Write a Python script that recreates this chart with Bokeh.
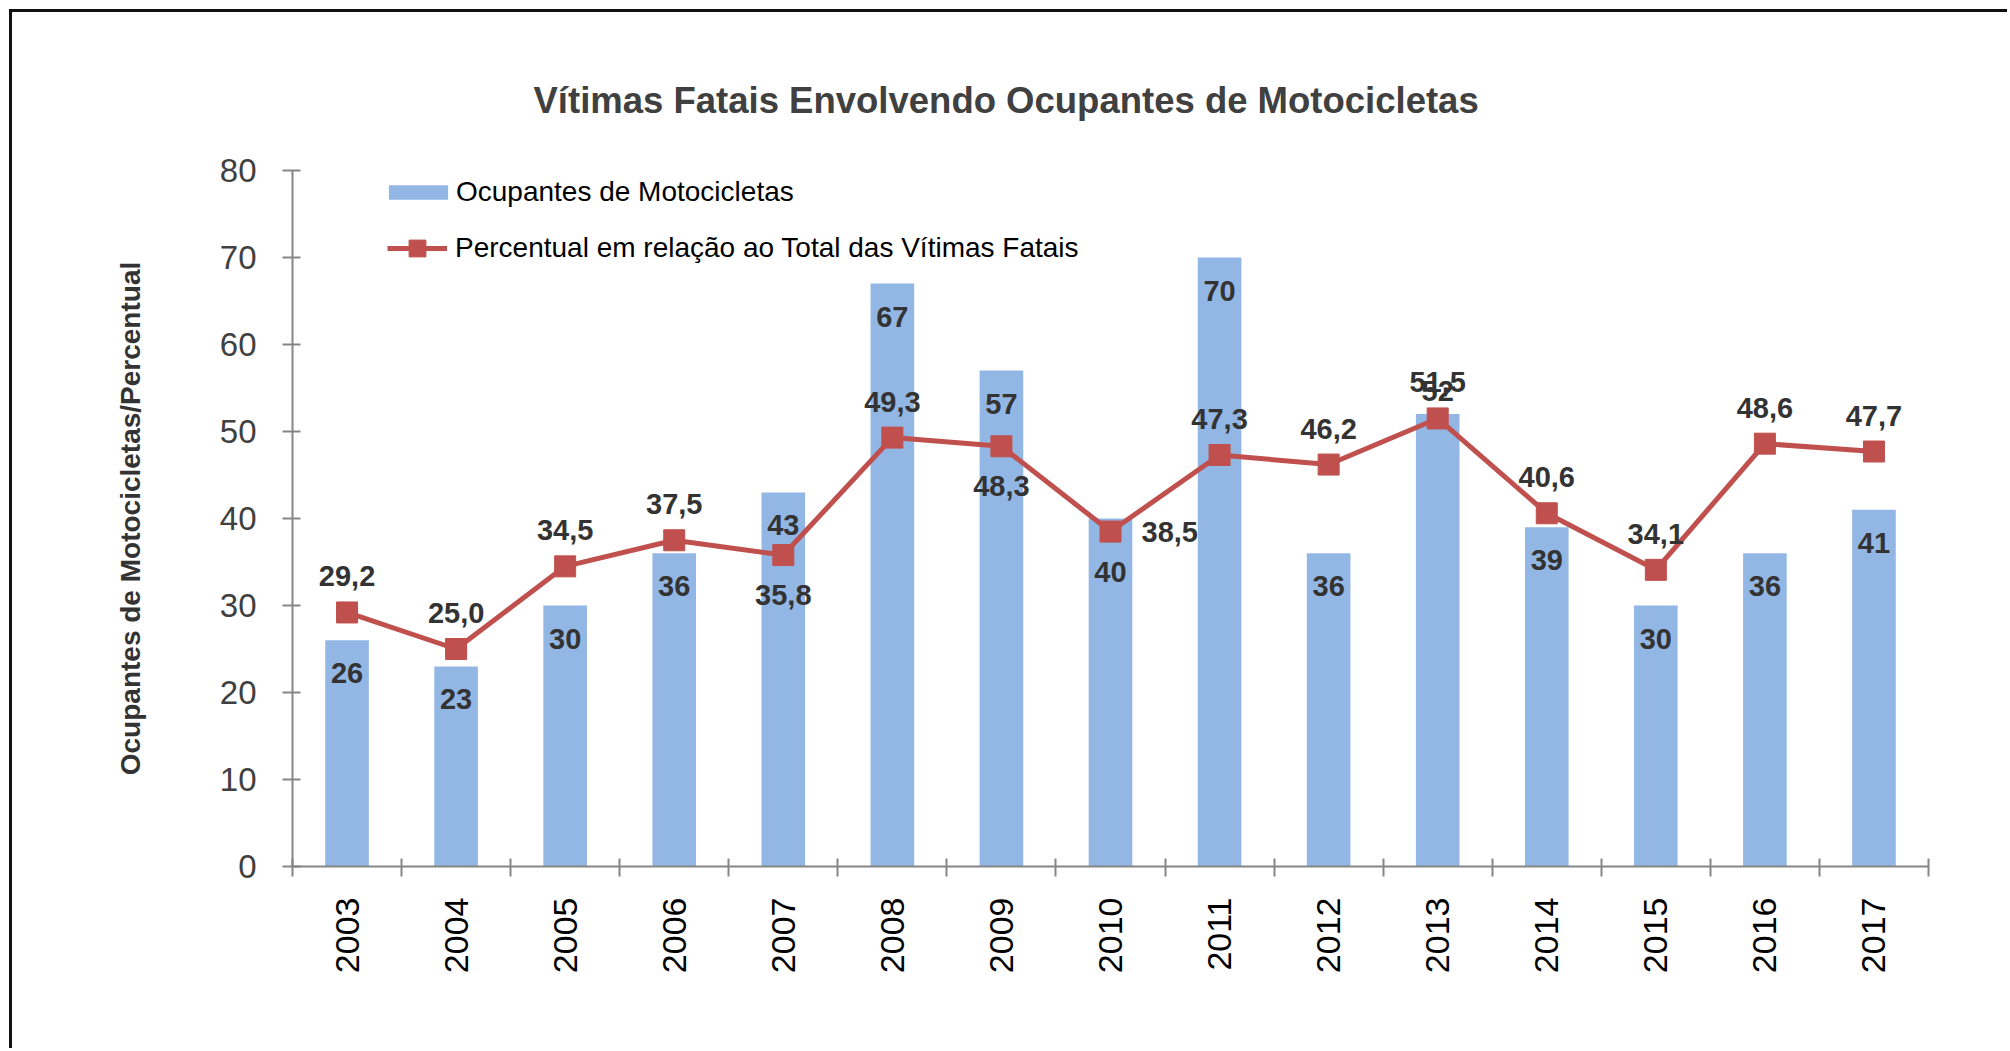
import math
from bokeh.plotting import figure
from bokeh.models import (Range1d, LinearAxis, FixedTicker, Legend, LegendItem, ColumnDataSource)
from bokeh.embed import file_html
from bokeh.resources import INLINE
from bokeh.core.properties import value

# ---------------- data ----------------
anos = ["2003", "2004", "2005", "2006", "2007", "2008", "2009", "2010",
        "2011", "2012", "2013", "2014", "2015", "2016", "2017"]
ocupantes = [26, 23, 30, 36, 43, 67, 57, 40, 70, 36, 52, 39, 30, 36, 41]
percentual = [29.2, 25.0, 34.5, 37.5, 35.8, 49.3, 48.3, 38.5, 47.3, 46.2,
              51.5, 40.6, 34.1, 48.6, 47.7]
y_ticks = [0, 10, 20, 30, 40, 50, 60, 70, 80]

titulo = "Vítimas Fatais Envolvendo Ocupantes de Motocicletas"
serie_barras = "Ocupantes de Motocicletas"
serie_linha = "Percentual em relação ao Total das Vítimas Fatais"
eixo_y = "Ocupantes de Motocicletas/Percentual"

# label placement (style)
pos_pct = {"2007": "abaixo", "2009": "abaixo", "2010": "direita"}
desl_barra = {"2010": 53, "2013": -23}

# ---------------- style ----------------
AZUL = "#93B7E5"
VERMELHO = "#C0504D"
EIXO = "#868686"
F = "Liberation Sans"

n = len(anos)
xc_pos = [i + 0.5 for i in range(n)]          # category centres on a numeric scale

W, H = 1998, 1039
FH = 696
p = figure(width=W, height=H, x_range=Range1d(0, n), y_range=Range1d(0, 80),
           output_backend="svg", toolbar_location=None,
           x_axis_location=None, y_axis_location=None,
           min_border_left=280, min_border_right=82, min_border_top=158,
           min_border_bottom=H - 158 - FH)
p.styles = {"margin-left": "9px", "margin-top": "9px",
            "border-top": "3px solid #111111", "border-left": "3px solid #111111"}
p.outline_line_color = None
p.background_fill_color = "white"
p.border_fill_color = "white"
p.grid.visible = False

# title
p.title.text = titulo
p.title.align = "left"
p.title.offset = 241
p.title.standoff = 100
p.title.text_font = F
p.title.text_font_style = "bold"
p.title.text_font_size = "36.5px"
p.title.text_color = "#404040"

# y axis
yax = LinearAxis(ticker=FixedTicker(ticks=y_ticks), axis_label=eixo_y)
yax.axis_line_color = EIXO
yax.axis_line_width = 2
yax.major_tick_line_color = EIXO
yax.major_tick_line_width = 2
yax.major_tick_in = 8
yax.major_tick_out = 10
yax.minor_tick_line_color = None
yax.major_label_standoff = 26
yax.major_label_text_font = F
yax.major_label_text_font_size = "33px"
yax.major_label_text_color = "#404040"
yax.axis_label_text_font = F
yax.axis_label_text_font_style = "bold"
yax.axis_label_text_font_size = "28px"
yax.axis_label_text_color = "#333333"
yax.axis_label_standoff = 71
p.add_layout(yax, "left")

# x axis: edges (ticks between categories)
xb = LinearAxis(ticker=FixedTicker(ticks=list(range(n + 1))))
xb.axis_line_color = EIXO
xb.axis_line_width = 2
xb.major_tick_line_color = EIXO
xb.major_tick_line_width = 2
xb.major_tick_in = 8
xb.major_tick_out = 10
xb.minor_tick_line_color = None
xb.major_label_text_font_size = "1px"
xb.major_label_text_alpha = 0
xb.major_label_standoff = 0
p.add_layout(xb, "below")

# x axis: category labels
xc = LinearAxis(ticker=FixedTicker(ticks=xc_pos),
                major_label_overrides={x: a for x, a in zip(xc_pos, anos)})
xc.axis_line_color = None
xc.major_tick_line_color = None
xc.minor_tick_line_color = None
xc.major_label_orientation = math.pi / 2
xc.major_label_standoff = 15
xc.major_label_text_font = F
xc.major_label_text_font_size = "34px"
xc.major_label_text_color = "#000000"
p.add_layout(xc, "below")

# glyphs
src = ColumnDataSource(dict(
    x=xc_pos, ocup=ocupantes, pct=percentual,
    rot_ocup=[str(v) for v in ocupantes],
    dy_barra=[desl_barra.get(a, 33) for a in anos],
))
barras = p.vbar(x="x", top="ocup", width=0.4, source=src, fill_color=AZUL, line_color=None)
linha = p.line(x="x", y="pct", source=src, line_color=VERMELHO, line_width=5)
marc = p.scatter(x="x", y="pct", source=src, marker="square", size=21,
                 fill_color=VERMELHO, line_color=VERMELHO)

p.text(x="x", y="ocup", text="rot_ocup", source=src, y_offset="dy_barra",
       text_align="center", text_baseline="middle", text_font=value(F),
       text_font_style="bold", text_font_size="29px", text_color="#333333")

for modo, dx, dy, al in [("acima", 0, -36, "center"), ("abaixo", 0, 40, "center"),
                         ("direita", 31, 0, "left")]:
    idx = [i for i, a in enumerate(anos) if pos_pct.get(a, "acima") == modo]
    s = ColumnDataSource(dict(x=[xc_pos[i] for i in idx], pct=[percentual[i] for i in idx],
                              rot=[f"{percentual[i]:.1f}".replace(".", ",") for i in idx]))
    p.text(x="x", y="pct", text="rot", source=s, x_offset=dx, y_offset=dy,
           text_align=al, text_baseline="middle", text_font=value(F),
           text_font_style="bold", text_font_size="29px", text_color="#333333")

# legends
legA = Legend(items=[LegendItem(label=serie_barras, renderers=[barras])],
              location=(89, FH - 38), glyph_width=74, glyph_height=18,
              label_standoff=1, padding=0, margin=0, spacing=0,
              border_line_color=None, background_fill_alpha=0,
              label_text_font=F, label_text_font_size="28px", label_text_color="#000000")
legB = Legend(items=[LegendItem(label=serie_linha, renderers=[linha, marc])],
              location=(95, FH - 99), glyph_width=60, glyph_height=42,
              label_standoff=8, padding=0, margin=0, spacing=0,
              border_line_color=None, background_fill_alpha=0,
              label_text_font=F, label_text_font_size="28px", label_text_color="#000000")
p.add_layout(legA)
p.add_layout(legB)

open("out.html", "w").write(file_html(p, INLINE))
